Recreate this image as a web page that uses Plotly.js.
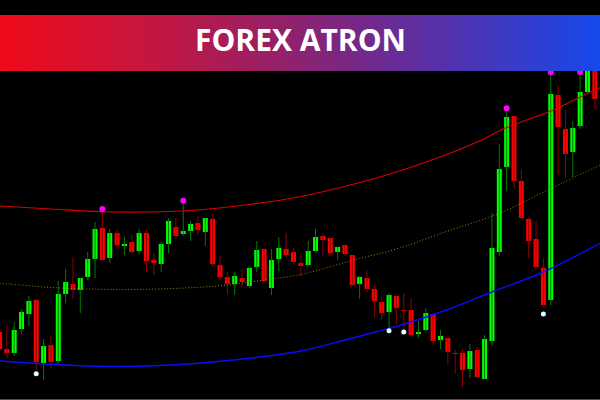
<!DOCTYPE html>
<html><head><meta charset="utf-8">
<script src="https://cdn.plot.ly/plotly-3.0.1.min.js"></script>
<style>html,body{margin:0;padding:0;background:#000;}#chart{width:600px;height:400px;}</style>
</head><body><div id="chart"></div>
<script>
// Price in chart points
const opens  = [68,51,47,71,86,100,37,55,39,106,116,110,123,141,172,142,167,154,158,149,167,140,136,156,173,166,169,177,168,181,135,123,116,122,114,133,151,112,141,151,148,137,135,149,164,162,148,155,145,116,122,111,98,88,104,90,90,66,70,86,60,62,47,47,31,50,21,59,148,233,284,219,181,161,132,100,305,271,248,274,308,340];
const highs  = [72,74,78,90,104,101,61,64,119,131,143,122,148,178,189,171,170,163,165,171,170,147,158,182,182,198,179,184,182,187,144,128,128,131,133,159,152,151,163,167,152,144,159,171,167,162,153,155,145,124,129,115,103,107,104,107,102,79,92,87,70,62,50,51,56,53,65,187,256,290,284,231,183,179,142,326,314,290,279,326,350,345];
const lows   = [48,42,44,66,74,30,20,31,36,97,101,87,120,122,139,137,150,145,146,146,128,125,128,147,161,164,159,165,154,133,120,106,105,113,112,128,118,105,129,143,135,124,134,148,143,145,140,144,114,101,108,82,80,72,76,70,63,62,69,55,51,36,26,13,22,22,21,54,144,209,212,181,142,132,93,95,225,222,223,271,306,290];
const closes = [51,47,70,88,99,38,54,38,106,118,110,122,141,171,140,167,155,156,148,167,139,137,156,179,164,169,176,170,182,136,123,116,124,118,132,150,119,140,152,145,138,134,149,163,160,147,153,146,115,123,111,99,87,105,92,89,65,68,87,59,64,48,46,30,49,23,61,152,231,283,219,182,159,133,95,306,273,246,272,308,345,301];

// Band lines (read at candle indices)
const upperX = [0,7,14,20,27,34,41,48,54,61,65,69,75,81,82];
const upperY = [194,191,188.3,188,190,195.5,203.5,215.5,228,246,258,272.5,289,310,313];
const midX   = [0,3,7,14,20,27,31,36,41,45,49,54,61,68,75,82];
const midY   = [116.7,115,112.5,110.7,110.7,112.7,115,120,125.5,133.3,141.5,151,169,186.7,211.5,236];
const lowerX = [0,5,9,14,20,27,34,41,47,51,54,61,67,74,82];
const lowerY = [39,36.5,35,33.7,34,36.7,41.7,49,60,67.7,73.5,90.5,108,128,158];

// Signal dots
const topX = [14,25,69,75,79];
const topY = [191,199.3,291.7,327.7,328];
const botX = [5,53,55,74];
const botY = [26.3,69.3,68,86];

const title = 'FOREX ATRON';

const idx = opens.map((_, i) => i);
const up = idx.map(i => closes[i] >= opens[i]);

function wicks(cond) {
  const x = [], y = [];
  idx.forEach(i => { if (up[i] === cond) { x.push(i, i, null); y.push(lows[i], highs[i], null); } });
  return {x, y};
}
const gw = wicks(true), rw = wicks(false);

const traces = [
  {type:'scatter', mode:'lines', x:gw.x, y:gw.y, line:{color:'#007a00', width:1}, hoverinfo:'skip'},
  {type:'scatter', mode:'lines', x:rw.x, y:rw.y, line:{color:'#900000', width:1}, hoverinfo:'skip'},
  {type:'bar', x:idx, y:idx.map(i => Math.max(Math.abs(closes[i]-opens[i]), 1)),
   base:idx.map(i => Math.min(opens[i], closes[i])), width:0.68,
   marker:{color:idx.map(i => up[i] ? '#00ff00' : '#ff0000'), line:{width:0}}, hoverinfo:'skip'},
  {type:'scatter', mode:'lines', x:upperX, y:upperY, line:{color:'#d80000', width:1.1, shape:'spline'}},
  {type:'scatter', mode:'lines', x:midX, y:midY, line:{color:'#9a8000', width:1, dash:'1px,2px', shape:'spline'}},
  {type:'scatter', mode:'lines', x:lowerX, y:lowerY, line:{color:'#0a0aff', width:1.4, shape:'spline'}},
  {type:'scatter', mode:'markers', x:topX, y:topY, marker:{color:'#ff00ff', size:6}},
  {type:'scatter', mode:'markers', x:botX, y:botY, marker:{color:'#e8ffff', size:5}},
  {type:'scatter', mode:'lines', x:[0,1,1,0,0], y:[0,0,1,1,0], fill:'toself', line:{width:0},
   fillgradient:{type:'horizontal', colorscale:[[0,'#f00a1b'],[0.25,'#c5163f'],[0.5,'#8c2270'],[0.75,'#5232ad'],[1,'#1548ec']]},
   xaxis:'x2', yaxis:'y2', hoverinfo:'skip'}
];

const layout = {
  width:600, height:400, margin:{l:0,r:0,t:0,b:0},
  paper_bgcolor:'#000', plot_bgcolor:'#000', showlegend:false,
  barmode:'overlay',
  xaxis:{range:[0.07,81.7], visible:false, showgrid:false, zeroline:false},
  yaxis:{range:[0,400], visible:false, showgrid:false, zeroline:false},
  xaxis2:{domain:[0,1], range:[0,1], anchor:'y2', visible:false},
  yaxis2:{domain:[0.8225,0.9625], range:[0,1], anchor:'x2', visible:false},
  shapes:[{type:'line', xref:'paper', yref:'paper', x0:0, x1:1, y0:0.00125, y1:0.00125, line:{color:'#505050', width:1}}],
  annotations:[{text:title, xref:'paper', yref:'paper', x:0.5, y:0.9, xanchor:'center', yanchor:'middle', showarrow:false,
    font:{family:'Open Sans', size:30, color:'#ffffff', weight:700}}]
};
Plotly.newPlot('chart', traces, layout, {staticPlot:true});
</script></body></html>
